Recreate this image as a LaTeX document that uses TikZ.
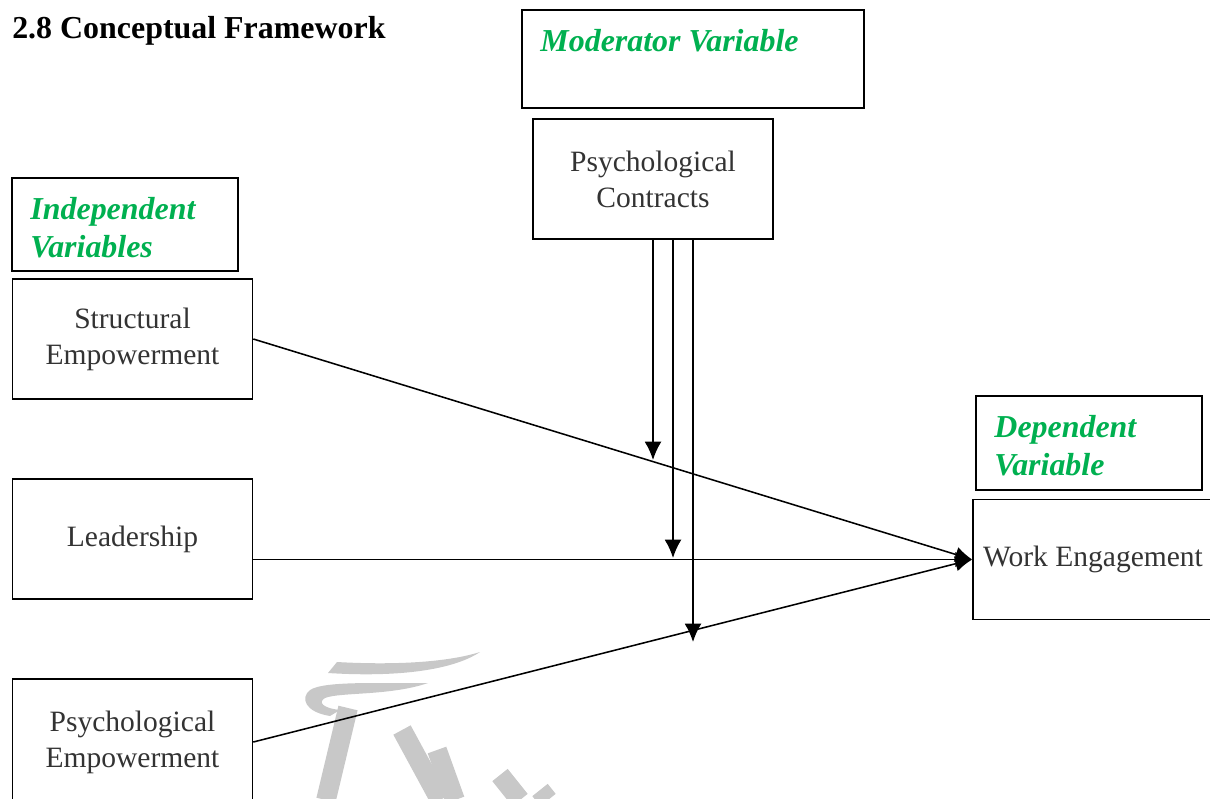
\documentclass[tikz,border=0pt]{standalone}
\usepackage{fontspec}
\setmainfont{Liberation Serif}
\usepackage{xcolor}
\usetikzlibrary{arrows.meta,positioning}
\definecolor{labgreen}{RGB}{0,176,80}
\definecolor{wmgray}{RGB}{200,200,200}
\tikzset{
    varbox/.style={draw, line width=1.1pt, minimum width=6cm, minimum height=3cm, inner sep=0pt,
      align=center, text=black!80, font=\fontsize{21}{25.6}\selectfont},
    labbox/.style={draw, line width=1.1pt, inner sep=0pt},
    labtext/.style={inner sep=0pt, align=left, text=labgreen, font=\fontsize{22.7}{26.6}\selectfont\bfseries\itshape},
    arr/.style={line width=1.1pt, -{Latex[length=12pt,width=11pt]}},
    modarr/.style={line width=1.2pt, -{Latex[length=13pt,width=12pt]}},
    wmstroke/.style={wmgray, line width=14pt}}

\begin{document}
\begin{tikzpicture}[x=0.025cm,y=-0.025cm]
\useasboundingbox (0,0) rectangle (1210,798);

% watermark
\fill[wmgray] (337,662) .. controls (390,665) and (445,663) .. (480,652) .. controls (450,672) and (390,677) .. (328,673) -- cycle;
\fill[wmgray] (428,683) .. controls (390,696) and (340,692) .. (325,698) .. controls (318,702) and (322,708) .. (340,710) -- (330,716) .. controls (305,712) and (300,698) .. (310,690) .. controls (325,680) and (390,684) .. (428,683) -- cycle;
\draw[wmstroke] (348,708) -- (326,800);
\draw[wmstroke] (402,730) -- (440,800);
\draw[wmstroke] (437,750) -- (455,800);
\draw[wmstroke] (500,775) -- (520,800);
\draw[wmstroke] (540,790) -- (548,800);

\node[anchor=base west, inner sep=0pt, font=\fontsize{22.7}{26}\selectfont\bfseries] (title) at (12,38) {2.8 Conceptual Framework};

\node[labbox, minimum width=8.55cm, minimum height=2.45cm] (modbox) at (693,59) {};
\node[labtext, below right=0.5cm and 0.475cm of modbox.north west] (modtext) {Moderator Variable};
\node[varbox] (pc) at (653,179) {Psychological\\Contracts};

\node[labbox, minimum width=5.65cm, minimum height=2.325cm] (indbox) at (125,224.5) {};
\node[labtext, below right=0.5cm and 0.475cm of indbox.north west] (indtext) {Independent\\Variables};

\node[varbox] (se) at (132.5,339) {Structural\\Empowerment};
\node[varbox] (lead) at (132.5,539) {Leadership};
\node[varbox, minimum height=3.15cm] (pe) at (132.5,742) {Psychological\\Empowerment};

\node[labbox, minimum width=5.65cm, minimum height=2.35cm] (depbox) at (1089,443) {};
\node[labtext, below right=0.5cm and 0.475cm of depbox.north west] (deptext) {Dependent\\Variable};
\node[varbox] (we) at (1093,559.5) {Work Engagement};

\draw[arr] (se.east) -- (we.west);
\draw[arr] (lead.east |- we.west) -- (we.west);
\draw[arr] (pe.east) -- (we.west);

% moderator arrows
\coordinate (m1) at (653,460);
\coordinate (m2) at (673,558);
\coordinate (m3) at (693,642);
\draw[modarr] (m1 |- pc.south) -- (m1);
\draw[modarr] (m2 |- pc.south) -- (m2);
\draw[modarr] (m3 |- pc.south) -- (m3);
\end{tikzpicture}
\end{document}
